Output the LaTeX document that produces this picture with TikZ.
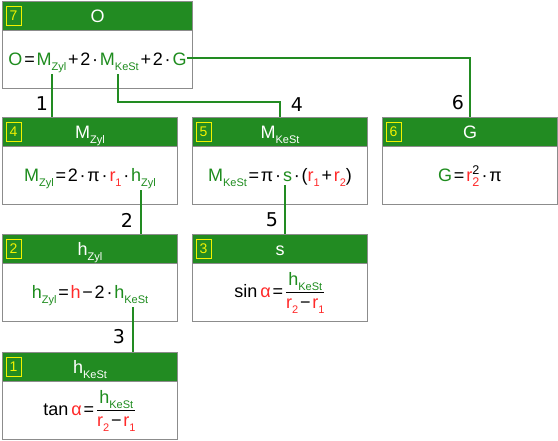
\documentclass[tikz,border=0pt]{standalone}
\usepackage{fontspec}
\usepackage{amsmath}
\usetikzlibrary{calc}
\setmainfont{Liberation Sans}
\newfontfamily\labfont{DejaVu Sans}
\definecolor{hg}{HTML}{228B22}
\definecolor{vg}{HTML}{1E8C1E}
\definecolor{rr}{HTML}{FF2A2A}
\definecolor{bx}{HTML}{8C8C8C}
\definecolor{yb}{HTML}{F2F200}
\newcommand\Sb[2]{#1\raisebox{-5pt}{\fontsize{11}{12}\selectfont #2}}
\newcommand\VS[2]{\textcolor{vg}{\Sb{#1}{#2}}}
\newcommand\RS[2]{\textcolor{rr}{\Sb{#1}{#2}}}
\newcommand\Vv[1]{\textcolor{vg}{#1}}
\newcommand\Rr[1]{\textcolor{rr}{#1}}
\newcommand\op[1]{\hspace{1.8pt}#1\hspace{1.8pt}}
\begin{document}
\begin{tikzpicture}[x=1pt,y=-1pt,
  body/.style={draw=bx, line width=1pt, fill=white, anchor=north west, inner sep=0pt, minimum width=175pt, minimum height=87pt},
  hdr/.style={draw=bx, line width=1pt, fill=hg, anchor=north west, inner sep=0pt, minimum width=175pt, minimum height=29pt},
  ttl/.style={text=white, font=\fontsize{18}{21}\selectfont, inner sep=0pt},
  numbox/.style={draw=yb, line width=0.8pt, text=yb, font=\fontsize{14}{16}\selectfont, minimum width=15pt, minimum height=19pt, inner sep=0pt, xshift=11.5pt},
  frm/.style={font=\fontsize{18}{21}\selectfont, inner sep=0pt},
  conn/.style={draw=hg, line width=1.4pt},
  lab/.style={font=\labfont\fontsize{19}{22}\selectfont, inner sep=0pt}]
\useasboundingbox (0,0) rectangle (558,440);
% box 7
\node[body, minimum width=190pt] (b7) at (2,1) {};
\node[hdr, minimum width=190pt] (h7) at (2,1) {};
\node[ttl] (t7) at (h7.center) {O};
\node[numbox] (n7) at (h7.west) {7};
\node[frm, anchor=base] (f7) at ($(h7.south)!0.5!(b7.south)+(0,5)$) {\Vv{O}\op{=}\VS{M}{Zyl}\op{+}2\op{·}\VS{M}{KeSt}\op{+}2\op{·}\Vv{G}};
% box 4
\node[body] (b4) at (2,117) {};
\node[hdr] (h4) at (2,117) {};
\node[ttl, anchor=base] (t4) at ($(h4.center)+(0,6)$) {\Sb{M}{Zyl}};
\node[numbox] (n4) at (h4.west) {4};
\node[frm, anchor=base] (f4) at ($(h4.south)!0.5!(b4.south)+(0,5)$) {\VS{M}{Zyl}\op{=}2\op{·}π\op{·}\RS{r}{1}\op{·}\VS{h}{Zyl}};
% box 5
\node[body] (b5) at (192,117) {};
\node[hdr] (h5) at (192,117) {};
\node[ttl, anchor=base] (t5) at ($(h5.center)+(0,6)$) {\Sb{M}{KeSt}};
\node[numbox] (n5) at (h5.west) {5};
\node[frm, anchor=base] (f5) at ($(h5.south)!0.5!(b5.south)+(0,5)$) {\VS{M}{KeSt}\op{=}π\op{·}\Vv{s}\op{·}(\RS{r}{1}\op{+}\RS{r}{2})};
% box 6
\node[body] (b6) at (382,117) {};
\node[hdr] (h6) at (382,117) {};
\node[ttl, anchor=base] (t6) at ($(h6.center)+(0,6)$) {G};
\node[numbox] (n6) at (h6.west) {6};
\node[frm, anchor=base] (f6) at ($(h6.south)!0.5!(b6.south)+(0,5)$) {\Vv{G}\op{=}$\text{\Rr{r}}_{\text{\Rr{2}}}^{\text{2}}$\op{·}π};
% box 2
\node[body] (b2) at (2,234) {};
\node[hdr] (h2) at (2,234) {};
\node[ttl, anchor=base] (t2) at ($(h2.center)+(0,6)$) {\Sb{h}{Zyl}};
\node[numbox] (n2) at (h2.west) {2};
\node[frm, anchor=base] (f2) at ($(h2.south)!0.5!(b2.south)+(0,5)$) {\VS{h}{Zyl}\op{=}\Rr{h}\op{−}2\op{·}\VS{h}{KeSt}};
% box 3
\node[body] (b3) at (192,234) {};
\node[hdr] (h3) at (192,234) {};
\node[ttl, anchor=base] (t3) at ($(h3.center)+(0,6)$) {s};
\node[numbox] (n3) at (h3.west) {3};
\node[frm] (f3) at ($(h3.south)!0.5!(b3.south)$) {sin\,\Rr{α}\op{=}$\dfrac{\text{\VS{h}{KeSt}}}{\text{\RS{r}{2}\op{−}\RS{r}{1}}}$};
% box 1
\node[body] (b1) at (2,352) {};
\node[hdr] (h1) at (2,352) {};
\node[ttl, anchor=base] (t1) at ($(h1.center)+(0,6)$) {\Sb{h}{KeSt}};
\node[numbox] (n1) at (h1.west) {1};
\node[frm] (f1) at ($(h1.south)!0.5!(b1.south)$) {tan\,\Rr{α}\op{=}$\dfrac{\text{\VS{h}{KeSt}}}{\text{\RS{r}{2}\op{−}\RS{r}{1}}}$};
% connector start points
\coordinate (p1) at (52,74);
\coordinate (p4) at (118,74);
\coordinate (q4) at (118,102);
\coordinate (p6) at (187,58);
\coordinate (p2) at (141,190);
\coordinate (p5) at (285,185);
\coordinate (p3) at (133,307);
\draw[conn] (p1) -- (p1 |- b4.north);
\draw[conn] (p4) -- (q4) -| (b5.north);
\draw[conn] (p6) -| (b6.north);
\draw[conn] (p2) -- (p2 |- b2.north);
\draw[conn] (p5) -- (p5 |- b3.north);
\draw[conn] (p3) -- (p3 |- b1.north);
% labels
\node[lab] (l1) at (42,104) {1};
\node[lab] (l4) at (297,105) {4};
\node[lab] (l6) at (458,103) {6};
\node[lab] (l2) at (127,220) {2};
\node[lab] (l5) at (272,220) {5};
\node[lab] (l3) at (119,337) {3};
\end{tikzpicture}
\end{document}
